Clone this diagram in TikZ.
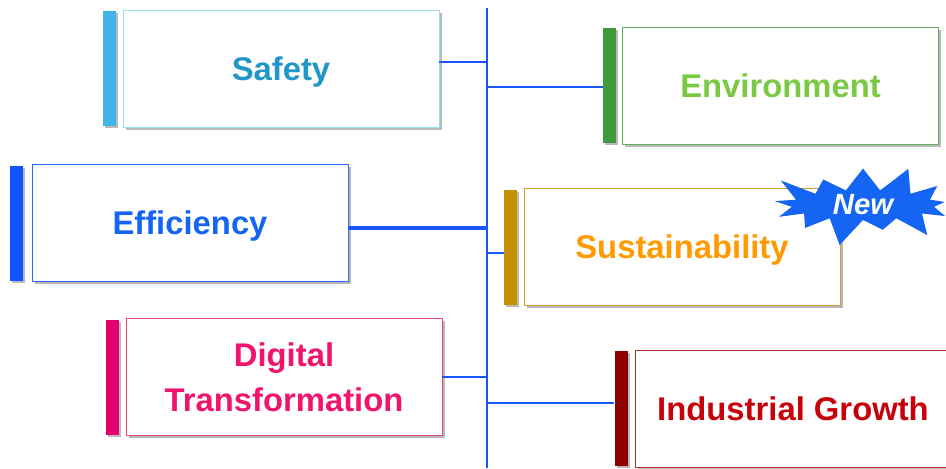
\documentclass[tikz,border=0pt]{standalone}
\usepackage{fontspec}
\setmainfont{Liberation Sans}
\usetikzlibrary{positioning,shadows,shapes.symbols}

\definecolor{spine}{HTML}{1A55F5}
\definecolor{safetytxt}{HTML}{2196C8}
\definecolor{safetyln}{HTML}{9ADCF0}
\definecolor{safetybar}{HTML}{40B4E6}
\definecolor{efftxt}{HTML}{1565F5}
\definecolor{effln}{HTML}{2A6BFF}
\definecolor{effbar}{HTML}{1255FF}
\definecolor{digtxt}{HTML}{F0146E}
\definecolor{digln}{HTML}{E04A80}
\definecolor{digbar}{HTML}{E0006E}
\definecolor{envtxt}{HTML}{7AC943}
\definecolor{envln}{HTML}{5FAF5F}
\definecolor{envbar}{HTML}{3D9A3D}
\definecolor{sustxt}{HTML}{FF9A00}
\definecolor{susln}{HTML}{D0A030}
\definecolor{susbar}{HTML}{C49000}
\definecolor{indtxt}{HTML}{C8000A}
\definecolor{indln}{HTML}{B03030}
\definecolor{indbar}{HTML}{8C0000}

\tikzset{
    %Define style for boxes
    punkt/.style={
           rectangle,
           line width=0.8pt,
           fill=white,
           minimum width=9.48cm,
           minimum height=3.51cm,
           text depth=0pt,
           align=center,
           font=\fontsize{28}{38}\selectfont\bfseries,
           drop shadow={shadow xshift=0.08cm,shadow yshift=-0.08cm,fill=black!45,opacity=0.6}},
    %Define style for the coloured bars
    stolpe/.style={
           rectangle,
           inner sep=0pt,
           minimum width=0.39cm,
           minimum height=3.45cm,
           drop shadow={shadow xshift=0.06cm,shadow yshift=-0.06cm,fill=black!45,opacity=0.6}},
    %Define style for connectors
    strek/.style={
           draw=spine,
           line width=2.2pt}
}

\begin{document}
\begin{tikzpicture}[x=0.03cm,y=-0.03cm]
 \useasboundingbox (0,0) rectangle (946,468);
 \clip (0,0) rectangle (946,468);

 %Spine
 \coordinate (top) at (487,8);
 \coordinate (bot) at (487,468);
 \draw[strek] (top) -- (bot);

 %Left boxes
 \node[punkt,draw=safetyln,text=safetytxt] (s) at (281,68.5) {Safety};
 \node[punkt,draw=effln,text=efftxt] (e) at (190,223) {Efficiency};
 \node[punkt,draw=digln,text=digtxt] (d) at (284,377) {Digital\\Transformation};
 \node[stolpe,fill=safetybar,left=0.18cm of s] (sb) {};
 \node[stolpe,fill=effbar,left=0.24cm of e] (eb) {};
 \node[stolpe,fill=digbar,left=0.2cm of d] (db) {};

 %Right boxes
 \node[punkt,draw=envln,text=envtxt] (en) at (780.5,85.5) {Environment};
 \node[punkt,draw=susln,text=sustxt] (su) at (682,247) {Sustainability};
 \node[punkt,draw=indln,text=indtxt] (in) at (793,408.5) {Industrial Growth};
 \node[stolpe,fill=envbar,left=0.18cm of en] (enb) {};
 \node[stolpe,fill=susbar,left=0.18cm of su] (sub) {};
 \node[stolpe,fill=indbar,left=0.2cm of in] (inb) {};

 %Connectors
 \coordinate (j1) at (487,62);
 \coordinate (j2) at (487,87);
 \coordinate (j3) at (487,228);
 \coordinate (j4) at (487,253);
 \coordinate (j5) at (487,377);
 \coordinate (j6) at (487,403);
 \draw[strek] (j1 -| s.east) -- (j1);
 \draw[strek] (j2) -- (j2 -| enb.west);
 \draw[strek,line width=3pt] (j3 -| e.east) -- (j3);
 \draw[strek] (j4) -- (j4 -| sub.west);
 \draw[strek] (j5 -| d.east) -- (j5);
 \draw[strek] (j6) -- (j6 -| inb.west);

 %New
 \node[starburst,fill=efftxt,starburst points=13,starburst point height=0.9cm,
       minimum width=6.1cm,minimum height=2.7cm,inner sep=0pt,
       text=white,font=\fontsize{25}{30}\selectfont\bfseries\itshape] (new) at (863,205) {New};
\end{tikzpicture}
\end{document}
